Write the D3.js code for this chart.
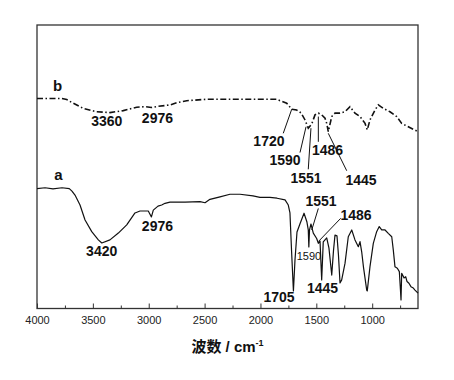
<!DOCTYPE html>
<html>
<head>
  <meta charset="UTF-8">
  <style>
    body { margin: 0; background: #fff; }
    svg { display: block; font-family: 'Liberation Sans', Arial, sans-serif; }
    .tick-label { font-size: 11px; fill: #222; }
    .peak { font-size: 14px; font-weight: bold; fill: #111; text-anchor: middle; }
    .peak-small { font-size: 11px; fill: #111; text-anchor: middle; }
    .curve-name { font-size: 15px; font-weight: bold; fill: #111; text-anchor: middle; }
    .axis-title { font-size: 15px; font-weight: bold; fill: #111; text-anchor: middle; }
  </style>
</head>
<body>
  <script src="https://d3js.org/d3.v7.min.js"></script>
  <svg id="ir" width="454" height="380"></svg>
  <script>
    // spectrum a (solid): [wavenumber, transmittance]
    let spectrumA = [
      [4000, 42.3], [3928, 42.6], [3857, 42.2], [3776, 42.6], [3711, 42.3], [3687, 41.4],
      [3660, 40.0], [3615, 36.5], [3570, 31.2], [3510, 27.1], [3451, 24.2], [3420, 23.1],
      [3347, 24.2], [3272, 26.6], [3197, 29.5], [3123, 33.7], [3078, 34.4], [3004, 34.4],
      [2976, 32.3], [2959, 34.7], [2917, 36.1], [2884, 36.5], [2854, 37.1], [2810, 37.5],
      [2675, 37.5], [2541, 37.7], [2496, 37.3], [2452, 38.5], [2362, 39.4], [2273, 40.3],
      [2183, 40.3], [2067, 39.7], [2004, 39.2], [1915, 39.2], [1852, 38.9], [1780, 38.3],
      [1751, 36.5], [1736, 33.7], [1722, 20.6], [1705, 6.2], [1691, 17.1], [1673, 27.0],
      [1646, 29.9], [1610, 33.6], [1584, 30.5], [1572, 27.7], [1567, 21.7], [1561, 27.7],
      [1548, 29.8], [1527, 26.6], [1497, 24.7], [1482, 23.0], [1467, 23.8], [1452, 10.1],
      [1438, 23.5], [1407, 24.9], [1387, 21.3], [1362, 11.8], [1346, 20.6], [1333, 25.9],
      [1315, 25.6], [1302, 18.9], [1288, 9.0], [1273, 10.1], [1243, 16.0], [1214, 25.3],
      [1183, 27.7], [1154, 24.2], [1124, 21.8], [1109, 23.6], [1094, 20.0], [1078, 14.6],
      [1049, 6.5], [1044, 6.2], [1020, 14.7], [990, 23.0], [960, 27.1], [937, 28.9],
      [915, 27.7], [885, 27.7], [856, 26.5], [825, 25.3], [811, 20.6], [796, 14.7],
      [775, 14.2], [757, 13.0], [747, 6.5], [742, 3.0], [736, 12.4], [715, 10.8],
      [700, 11.2], [688, 9.5], [671, 8.9], [653, 7.7], [632, 7.2], [617, 6.5], [590, 5.4]
    ];

    // spectrum b (dash-dot)
    let spectrumB = [
      [4000, 74.1], [3779, 74.1], [3734, 73.7], [3675, 72.4], [3586, 70.6], [3466, 69.4],
      [3347, 69.1], [3228, 69.8], [3108, 71.0], [3033, 71.2], [2976, 70.9], [2917, 71.3],
      [2810, 71.8], [2750, 72.6], [2660, 73.3], [2481, 73.8], [2243, 73.8], [2004, 73.8],
      [1855, 73.8], [1825, 73.3], [1765, 72.4], [1720, 70.3], [1676, 70.0], [1637, 69.0],
      [1601, 66.5], [1572, 63.6], [1541, 65.1], [1512, 68.3], [1482, 68.9], [1452, 68.3],
      [1422, 67.1], [1407, 65.3], [1393, 62.4], [1362, 67.7], [1333, 68.9], [1288, 68.9],
      [1243, 69.4], [1199, 71.2], [1154, 68.9], [1109, 67.7], [1064, 65.3], [1044, 63.0],
      [1020, 66.5], [975, 70.0], [945, 71.8], [901, 70.6], [841, 69.4], [781, 67.7],
      [736, 65.3], [691, 64.4], [632, 63.2], [590, 62.4]
    ];

    let xTicks = [4000, 3500, 3000, 2500, 2000, 1500, 1000];
    let xMinorTicks = [3750, 3250, 2750, 2250, 1750, 1250, 750];

    // peak labels: [text, wavenumber, transmittance]
    let peakLabels = [
      ["3360", 3376, 64.4], ["2976", 2922, 65.4], ["1720", 1924, 57.3], ["1590", 1780, 50.6],
      ["1551", 1592, 44.3], ["1486", 1400, 54.1], ["1445", 1100, 43.5],
      ["3420", 3421, 18.5], ["2976", 2922, 27.3], ["1705", 1834, 2.3], ["1551", 1458, 36.2],
      ["1486", 1145, 31.2], ["1445", 1445, 5.5]
    ];
    let smallLabels = [["1590", 1566, 17.1]];
    // leader lines: [w1, t1, w2, t2]
    let leaders = [
      [1796, 61.8, 1720, 70.3], [1646, 55.0, 1592, 64.1], [1572, 49.1, 1548, 63.6],
      [1482, 58.8, 1482, 67.7], [1228, 48.6, 1393, 61.8],
      [1482, 35.3, 1541, 27.7], [1282, 31.8, 1482, 23.6]
    ];
    let curveNames = [["a", 3809, 45.3], ["b", 3815, 76.8]];

    let margin = {left: 37, right: 418, top: 25, bottom: 308.5};

    let svg = d3.select("#ir");

    let x = d3.scaleLinear().domain([4000, 590]).range([margin.left, margin.right]);
    let y = d3.scaleLinear().domain([0, 100]).range([margin.bottom, margin.top]);

    // frame
    svg.append("rect")
      .attr("x", margin.left).attr("y", margin.top)
      .attr("width", margin.right - margin.left).attr("height", margin.bottom - margin.top)
      .attr("fill", "none").attr("stroke", "#333").attr("stroke-width", 1.3);

    // bottom axis: major ticks inward with labels, minor ticks inward
    let axisG = svg.append("g").attr("transform", "translate(0," + margin.bottom + ")");
    axisG.call(d3.axisBottom(x).tickValues(xTicks).tickSize(-5).tickPadding(8).tickFormat(d3.format("d")));
    axisG.select(".domain").remove();
    axisG.selectAll(".tick line").attr("stroke", "#333");
    axisG.attr("font-size", null).attr("font-family", null);
    axisG.selectAll(".tick text").attr("class", "tick-label");

    let minorG = svg.append("g").attr("transform", "translate(0," + margin.bottom + ")");
    minorG.call(d3.axisBottom(x).tickValues(xMinorTicks).tickSize(-3).tickFormat(""));
    minorG.select(".domain").remove();
    minorG.selectAll(".tick line").attr("stroke", "#333");

    let line = d3.line()
      .x(function(d) { return x(d[0]); })
      .y(function(d) { return y(d[1]); });

    svg.append("path")
      .datum(spectrumA)
      .attr("d", line)
      .attr("fill", "none")
      .attr("stroke", "#111")
      .attr("stroke-width", 1.2)
      .attr("stroke-linejoin", "round");

    svg.append("path")
      .datum(spectrumB)
      .attr("d", line)
      .attr("fill", "none")
      .attr("stroke", "#111")
      .attr("stroke-width", 1.6)
      .attr("stroke-dasharray", "6,2.5,1.5,2.5");

    // leader lines
    svg.selectAll("line.leader")
      .data(leaders)
      .enter()
      .append("line")
        .attr("class", "leader")
        .attr("x1", function(d) { return x(d[0]); })
        .attr("y1", function(d) { return y(d[1]); })
        .attr("x2", function(d) { return x(d[2]); })
        .attr("y2", function(d) { return y(d[3]); })
        .attr("stroke", "#111")
        .attr("stroke-width", 1);

    svg.selectAll("text.peak")
      .data(peakLabels)
      .enter()
      .append("text")
        .attr("class", "peak")
        .attr("x", function(d) { return x(d[1]); })
        .attr("y", function(d) { return y(d[2]); })
        .text(function(d) { return d[0]; });

    svg.selectAll("text.peak-small")
      .data(smallLabels)
      .enter()
      .append("text")
        .attr("class", "peak-small")
        .attr("x", function(d) { return x(d[1]); })
        .attr("y", function(d) { return y(d[2]); })
        .text(function(d) { return d[0]; });

    svg.selectAll("text.curve-name")
      .data(curveNames)
      .enter()
      .append("text")
        .attr("class", "curve-name")
        .attr("x", function(d) { return x(d[1]); })
        .attr("y", function(d) { return y(d[2]); })
        .text(function(d) { return d[0]; });

    // axis title
    let title = svg.append("text")
      .attr("class", "axis-title")
      .attr("x", (margin.left + margin.right) / 2)
      .attr("y", 352);
    title.append("tspan").attr("font-family", "'Noto Sans CJK SC', sans-serif").text("波数");
    title.append("tspan").text(" / cm");
    title.append("tspan").attr("dy", -6).attr("font-size", 9).text("-1");
  </script>
</body>
</html>
